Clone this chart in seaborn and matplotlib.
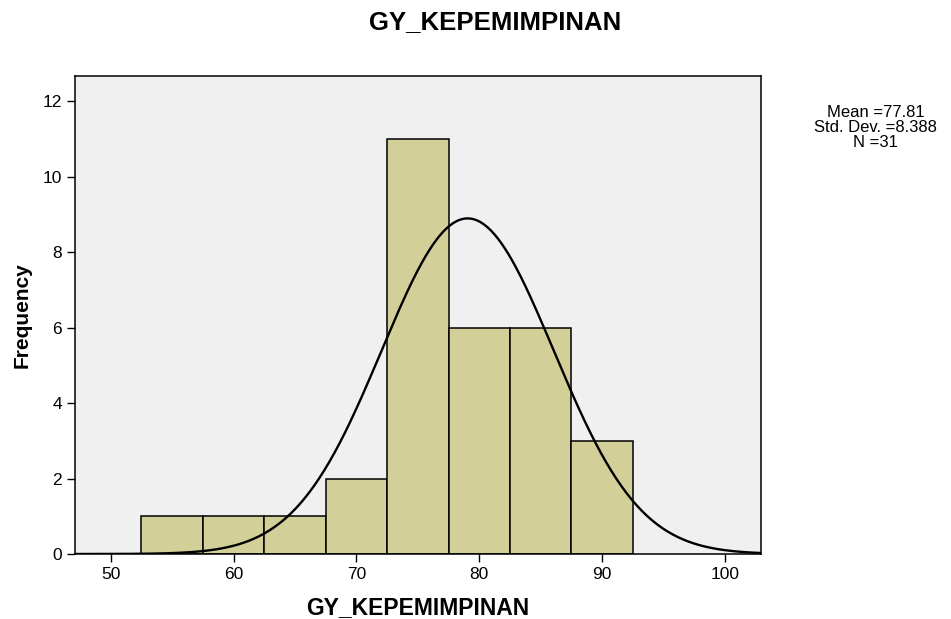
import seaborn as sns
import matplotlib.pyplot as plt
import numpy as np

# histogram bins and counts
bin_edges = [52.5, 57.5, 62.5, 67.5, 72.5, 77.5, 82.5, 87.5, 92.5]
counts = [1, 1, 1, 2, 11, 6, 6, 3]
bin_centers = [55, 60, 65, 70, 75, 80, 85, 90]

# normal curve as drawn (centre, spread, area)
curve_mu = 79.05
curve_sd = 7.0
curve_area = 156

stats_text = "Mean =77.81\nStd. Dev. =8.388\nN =31"
var_name = "GY_KEPEMIMPINAN"

sns.set_style("ticks")
plt.rcParams["font.family"] = ["Liberation Sans", "DejaVu Sans"]
plt.rcParams["text.color"] = "black"
plt.rcParams["axes.labelcolor"] = "black"
plt.rcParams["xtick.color"] = "black"
plt.rcParams["ytick.color"] = "black"

fig = plt.figure(figsize=(9.51, 6.19), dpi=100)
ax = fig.add_axes([0.0789, 0.105, 0.721, 0.772])
ax.set_facecolor("#f0f0f0")

sns.histplot(x=bin_centers, weights=counts, bins=bin_edges, ax=ax,
             color="#d3cf98", alpha=1, edgecolor="black", linewidth=1.1)

xs = np.linspace(47.1, 102.9, 400)
ys = curve_area * np.exp(-(xs - curve_mu) ** 2 / (2 * curve_sd ** 2)) / (curve_sd * np.sqrt(2 * np.pi))
sns.lineplot(x=xs, y=ys, ax=ax, color="black", linewidth=1.7)

ax.set_xlim(47.1, 102.9)
ax.set_ylim(0, 12.66)
ax.set_xticks([50, 60, 70, 80, 90, 100])
ax.set_yticks([0, 2, 4, 6, 8, 10, 12])
ax.tick_params(axis="both", labelsize=12.5, length=6, width=1, color="black")
for s in ax.spines.values():
    s.set_visible(True)
    s.set_color("black")
    s.set_linewidth(1.1)

ax.set_xlabel(var_name, fontsize=16.5, fontweight="bold", labelpad=10)
ax.set_ylabel("Frequency", fontsize=15, fontweight="bold", labelpad=8)

fig.text(0.521, 0.964, var_name, ha="center", va="center", fontsize=18.5, fontweight="bold")
fig.text(0.921, 0.794, stats_text, ha="center", va="center", fontsize=12, linespacing=1.0)

plt.savefig("out.png", dpi=100)
plt.close()
